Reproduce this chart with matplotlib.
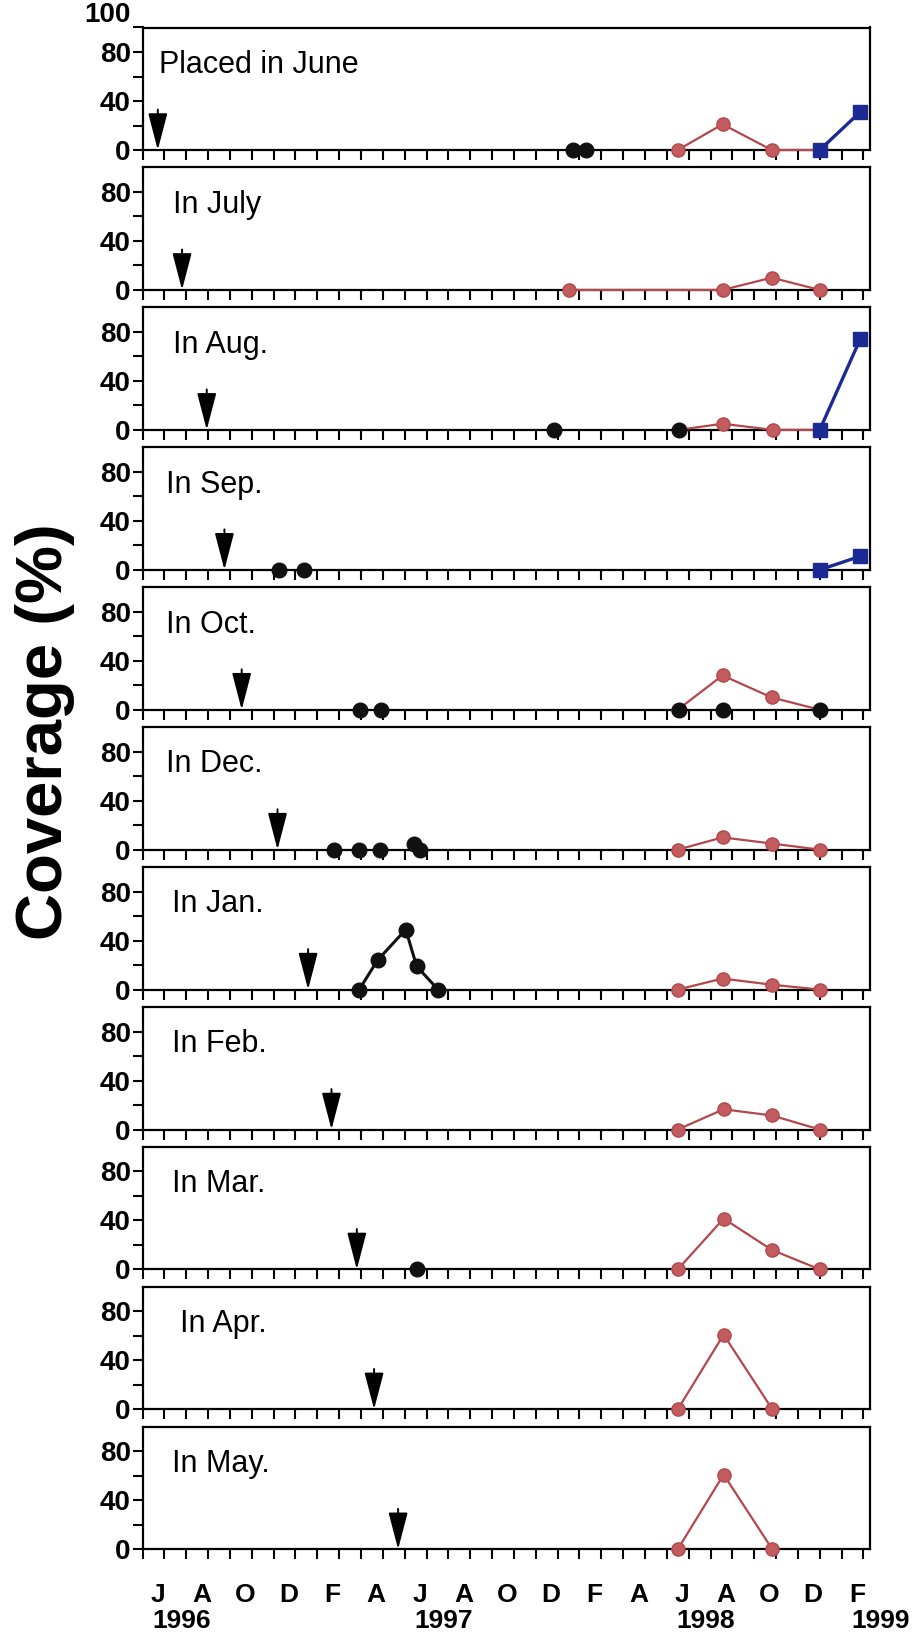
import numpy as np
import matplotlib.pyplot as plt
from matplotlib.transforms import blended_transform_factory

plt.rcParams['font.family'] = ['Liberation Sans', 'DejaVu Sans']

# month index: 0 = June 1996 ... 32 = Feb 1999
panel_labels = ["Placed in June", "In July", "In Aug.", "In Sep.", "In Oct.", "In Dec.",
                "In Jan.", "In Feb.", "In Mar.", "In Apr.", "In May."]
label_x = [0.022, 0.042, 0.042, 0.032, 0.032, 0.032, 0.041, 0.041, 0.041, 0.0515, 0.04]
arrow_month = [-0.3, 0.81, 1.94, 2.75, 3.54, 5.18, 6.58, 7.65, 8.81, 9.6, 10.7]

black_x = [[18.7, 19.3], [], [17.85, 23.55], [5.26, 6.4], [8.96, 9.9, 23.55, 25.58, 30.0],
           [7.77, 8.92, 9.88, 11.43, 11.7], [8.92, 9.76, 11.05, 11.55, 12.53], [], [11.58], [], []]
black_y = [[0, 0], [], [0, 0], [0, 0], [0, 0, 0, 0, 0],
           [0, 0, 0, 5, 0], [0, 24, 49, 19, 0], [], [0], [], []]
black_joined = [False, False, False, False, False, False, True, False, False, False, False]

red_x = [[23.5, 25.55, 27.8, 30.0], [18.5, 25.55, 27.8, 30.0], [23.55, 25.55, 27.85, 30.0], [30.0],
         [23.5, 25.55, 27.8, 30.0], [23.5, 25.55, 27.8, 30.0], [23.5, 25.55, 27.8, 30.0],
         [23.5, 25.6, 27.8, 30.0], [23.5, 25.6, 27.8, 30.0], [23.5, 25.6, 27.83], [23.5, 25.6, 27.83]]
red_y = [[0, 21, 0, 0], [0, 0, 10, 0], [0, 5, 0, 0], [0],
         [0, 28, 10, 0], [0, 10, 5, 0], [0, 9, 4, 0],
         [0, 16.5, 11.5, 0], [0, 41.5, 16, 0], [0, 61, 0], [0, 61, 0]]

blue_x = [[30.0, 31.85], [], [30.0, 31.85], [30.0, 31.85], [], [], [], [], [], [], []]
blue_y = [[0, 31], [], [0, 74], [0, 11], [], [], [], [], [], [], []]

month_letters = ["J", "A", "O", "D", "F", "A", "J", "A", "O", "D", "F", "A", "J", "A", "O", "D", "F"]
letter_months = list(range(0, 33, 2))
years = ["1996", "1997", "1998", "1999"]
year_months = [0, 12, 24, 32]

W, H = 915, 1634
fig = plt.figure(figsize=(W / 100, H / 100), dpi=100)

red_line = "#b4474c"
red_face = "#c25c5e"
blue = "#1c2a94"

left = 142.5 / W
width = (870 - 142.5) / W
axes = []
for i in range(len(panel_labels)):
    bot = 150 + 139.93 * i
    ax = fig.add_axes([left, 1 - bot / H, width, 122.5 / H])
    axes.append(ax)
    ax.set_xlim(-1, 32.3)
    ax.set_ylim(0, 100)
    ax.set_xticks(np.arange(-1, 33))
    ax.set_xticklabels([])
    yt = [0, 20, 40, 60, 80] + ([100] if i == 0 else [])
    ax.set_yticks(yt)
    ax.set_yticklabels([str(v) if v in (0, 40, 80, 100) else "" for v in yt],
                       fontsize=20, fontweight="bold")
    if i == 0:
        ax.get_yticklabels()[-1].set_va("bottom")
        ax.get_yticklabels()[-1].set_y(94)
    ax.tick_params(axis="x", direction="out", length=7, width=1.5)
    ax.tick_params(axis="y", direction="out", length=7.5, width=1.5, pad=1)
    for s in ax.spines.values():
        s.set_linewidth(1.6)

    ax.text(label_x[i], 0.63, panel_labels[i], transform=ax.transAxes,
            fontsize=22, ha="left", va="baseline")

    ax.annotate("", xy=(arrow_month[i], 0), xytext=(arrow_month[i], 33),
                arrowprops=dict(arrowstyle="-|>,head_length=2.3,head_width=0.6",
                                mutation_scale=10, lw=1.4, color="black",
                                shrinkA=0, shrinkB=0))

    if red_x[i]:
        ax.plot(red_x[i], red_y[i], "-o", color=red_line, mfc=red_face, mec=red_line,
                ms=9.5, lw=1.6, clip_on=False, zorder=3)
    if blue_x[i]:
        ax.plot(blue_x[i], blue_y[i], "-s", color=blue, ms=10.5, lw=2.4,
                clip_on=False, zorder=4)
    if black_x[i]:
        ax.plot(black_x[i], black_y[i], "-o" if black_joined[i] else "o", color="#111111",
                ms=10.5, lw=2.2, clip_on=False, zorder=5)

# month letters and years below the bottom panel
ax = axes[-1]
tr = blended_transform_factory(ax.transData, fig.transFigure)
for m, letter in zip(letter_months, month_letters):
    ax.text(m - 0.3, 1 - 1602.5 / H, letter, transform=tr, fontsize=19,
            fontweight="bold", ha="center", va="baseline")
for m, yr in zip(year_months, years):
    ax.text(m - 0.55, 1 - 1627.5 / H, yr, transform=tr, fontsize=19,
            fontweight="bold", ha="left", va="baseline")

fig.text(45 / W, 1 - 732 / H, "Coverage (%)", rotation=90, fontsize=47,
         fontweight="bold", ha="center", va="center")

fig.savefig("out.png", dpi=100)
